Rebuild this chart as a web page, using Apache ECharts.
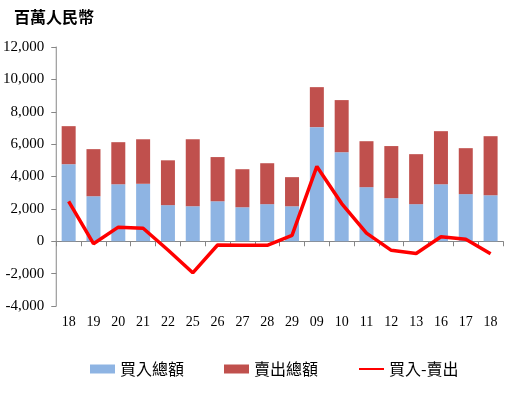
<!DOCTYPE html>
<html>
<head>
<meta charset="utf-8">
<script src="https://cdn.jsdelivr.net/npm/echarts@6/dist/echarts.min.js"></script>
<style>
  html, body { margin: 0; padding: 0; background: #fff; }
  #chart { width: 516px; height: 396px; }
</style>
</head>
<body>
<div id="chart"></div>
<script>
// 日期 (日)
const categories = ["18", "19", "20", "21", "22", "25", "26", "27", "28", "29", "09", "10", "11", "12", "13", "16", "17", "18"];
// 買入總額 (百萬人民幣)
const buyData = [4760, 2780, 3520, 3550, 2230, 2160, 2470, 2100, 2290, 2160, 7050, 5500, 3340, 2660, 2290, 3520, 2910, 2840];
// 賣出總額
const sellData = [2350, 2910, 2600, 2750, 2770, 4140, 2730, 2350, 2530, 1800, 2470, 3220, 2840, 3220, 3090, 3280, 2840, 3650];
// 買入-賣出
const netData = [2470, -150, 870, 800, -540, -1950, -230, -250, -250, 360, 4620, 2330, 500, -560, -760, 280, 120, -770];

const axisColor = "#868686";
const labelFont = "Liberation Serif";

let myChart = echarts.init(document.getElementById("chart"));
let option = {
  backgroundColor: "#fff",
  animation: false,
  title: {
    text: "百萬人民幣",
    left: 9,
    top: 4,
    textStyle: { fontFamily: "Noto Sans CJK TC", fontSize: 16, fontWeight: "bold", color: "#000" },
  },
  legend: {
    left: 85,
    top: 356,
    itemWidth: 25,
    itemHeight: 9,
    itemGap: 40,
    textStyle: { fontFamily: "Noto Sans CJK TC", fontSize: 16, color: "#000" },
    data: [
      { name: "買入總額", icon: "rect" },
      { name: "賣出總額", icon: "rect" },
      // 隱藏折線圖例上的圓點
      { name: "買入-賣出", itemStyle: { opacity: 0 } },
    ],
  },
  grid: { left: 56, right: 13, top: 47, bottom: 90 },
  xAxis: [
    {
      type: "category",
      data: categories,
      axisLine: { onZero: true, lineStyle: { color: axisColor, width: 1 } },
      axisTick: { show: true, length: 5, lineStyle: { color: axisColor } },
      axisLabel: { show: false },
    },
    {
      // 底部只顯示日期標籤
      type: "category",
      data: categories,
      position: "bottom",
      axisLine: { show: false, onZero: false },
      axisTick: { show: false },
      axisLabel: { margin: 9, fontFamily: labelFont, fontSize: 14, color: "#000" },
    },
  ],
  yAxis: {
    type: "value",
    min: -4000,
    max: 12000,
    interval: 2000,
    axisLine: { show: true, lineStyle: { color: axisColor } },
    axisTick: { show: true, length: 5, lineStyle: { color: axisColor } },
    splitLine: { show: false },
    axisLabel: {
      margin: 12,
      fontFamily: labelFont,
      fontSize: 15,
      color: "#000",
      formatter: (v) => v.toLocaleString("en-US"),
    },
  },
  series: [
    {
      name: "買入總額",
      type: "bar",
      stack: "total",
      barWidth: 14,
      itemStyle: { color: "#8EB4E3" },
      data: buyData,
    },
    {
      name: "賣出總額",
      type: "bar",
      stack: "total",
      barWidth: 14,
      itemStyle: { color: "#C0504D" },
      data: sellData,
    },
    {
      name: "買入-賣出",
      type: "line",
      symbol: "none",
      lineStyle: { color: "#FF0000", width: 3.5 },
      itemStyle: { color: "#FF0000" },
      data: netData,
      z: 5,
    },
  ],
};
myChart.setOption(option);
</script>
</body>
</html>
